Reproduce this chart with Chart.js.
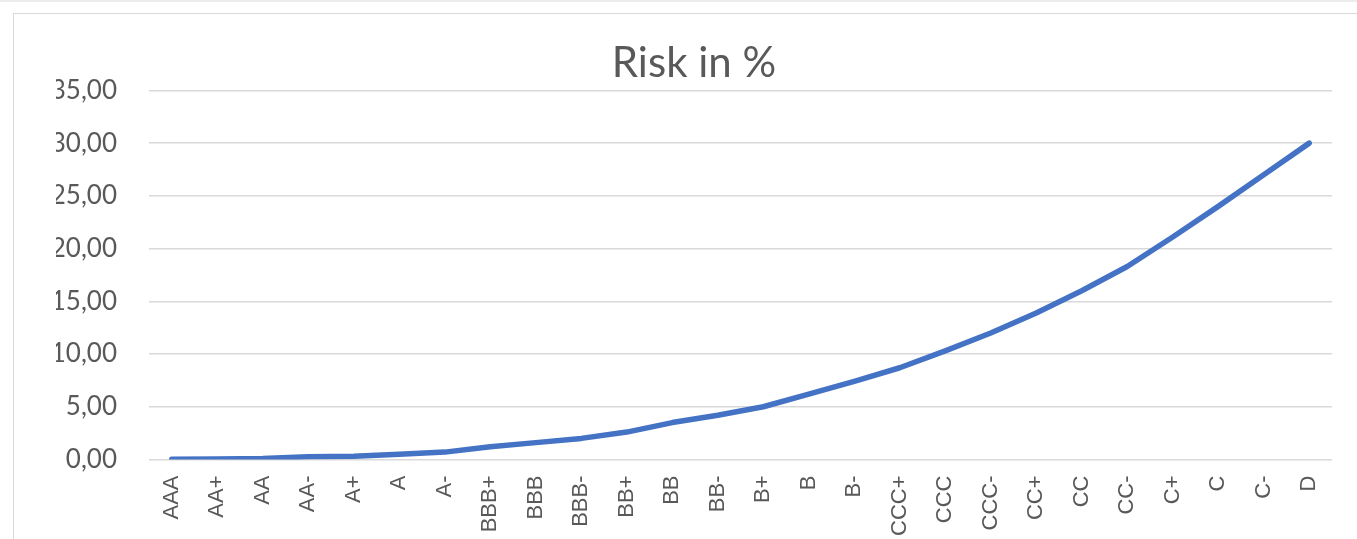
<!DOCTYPE html>
<html>
<head>
<meta charset="utf-8">
<script src="https://cdn.jsdelivr.net/npm/chart.js@4"></script>
<style>
  html, body { margin: 0; padding: 0; background: #fff; overflow: hidden; }
  #topLine { position: absolute; left: 0; top: 0; width: 1357px; height: 2px; background: #ececec; }
  #frame { position: absolute; left: 13px; top: 13px; width: 1362px; height: 560px; border: 1px solid #d9d9d9; box-sizing: border-box; }
  #frame canvas { display: block; }
</style>
</head>
<body>
<div id="topLine"></div>
<div id="frame"><canvas id="riskChart"></canvas></div>
<script>
var ratings = ["AAA","AA+","AA","AA-","A+","A","A-","BBB+","BBB","BBB-","BB+","BB","BB-","B+","B","B-","CCC+","CCC","CCC-","CC+","CC","CC-","C+","C","C-","D"];
var riskValues = [0.02,0.05,0.1,0.25,0.3,0.5,0.7,1.2,1.6,2.0,2.6,3.5,4.2,5.0,6.2,7.4,8.7,10.3,12.0,13.9,16.0,18.3,21.1,24.0,27.0,30.0];
var yTicks = [0,5,10,15,20,25,30,35];

var textColor = "#595959";
var fontName = "Lato, 'Open Sans', sans-serif";
var narrowFont = "'Liberation Sans Narrow', 'Liberation Sans', sans-serif";

var cx = document.getElementById('riskChart');
var myChart = new Chart(cx, {
  type: 'line',
  data: {
    labels: ratings,
    datasets: [{
      label: 'Risk in %',
      data: riskValues,
      fill: false,
      tension: 0,
      borderColor: "#4472C4",
      borderWidth: 5.5,
      pointRadius: 0,
      borderCapStyle: 'round',
      borderJoinStyle: 'round'
    }]
  },
  options: {
    responsive: true,
    maintainAspectRatio: false,
    animation: false,
    layout: {padding: {left: 42, right: 42, top: 24, bottom: 20}},
    plugins: {
      legend: {display: false},
      tooltip: {enabled: false},
      title: {display: true, text: "Risk in %", color: textColor, font: {family: fontName, size: 42, weight: 'normal'}, padding: {top: 0, bottom: 2}}
    },
    scales: {
      x: {
        offset: true,
        grid: {display: false, drawTicks: false},
        border: {display: false},
        ticks: {color: textColor, font: {family: narrowFont, size: 22}, minRotation: 90, maxRotation: 90, padding: 16, autoSkip: false}
      },
      y: {
        min: 0,
        max: 35,
        afterBuildTicks: function(axis) { axis.ticks = yTicks.map(function(v) { return {value: v}; }); },
        afterFit: function(axis) { axis.width = 93; },
        grid: {color: "#d9d9d9", lineWidth: 1.5, drawTicks: false},
        border: {display: false},
        ticks: {
          color: textColor,
          font: {family: fontName, size: 26},
          padding: 32,
          callback: function(v) { return v.toFixed(2).replace(".", ","); }
        }
      }
    }
  }
});
</script>
</body>
</html>
